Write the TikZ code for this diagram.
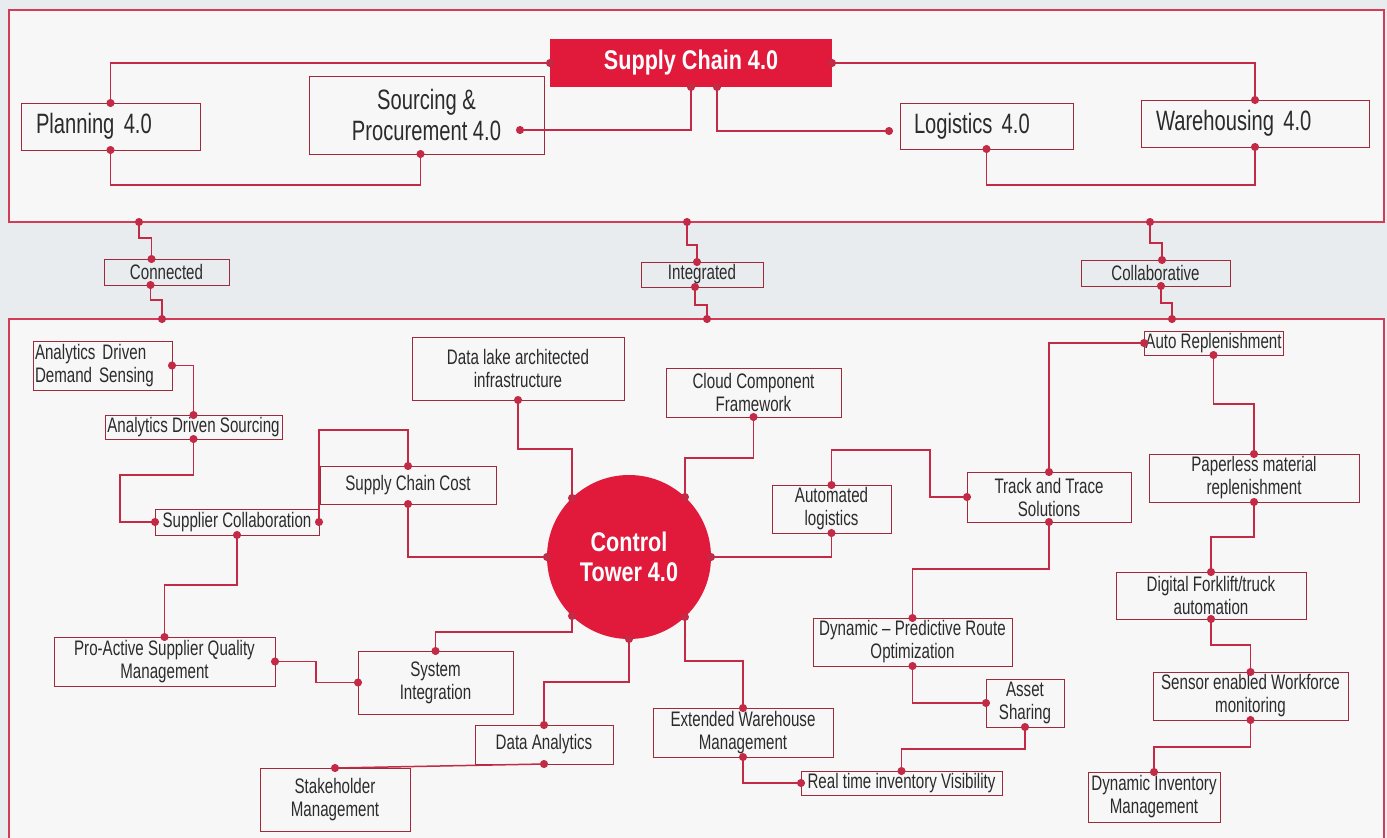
\documentclass[tikz,border=0pt]{standalone}
\usepackage{fontspec}
\setmainfont[FakeStretch=0.72]{Liberation Sans}
\newfontfamily\headfont[FakeStretch=0.8]{Liberation Sans}
\usepackage{xcolor}
\definecolor{pagebg}{HTML}{E9ECEE}
\definecolor{panelbg}{HTML}{F7F7F7}
\definecolor{hubred}{HTML}{E1193B}
\definecolor{wirered}{HTML}{C22A45}
\definecolor{edgered}{HTML}{9E2A3C}
\definecolor{panelred}{HTML}{D23C57}
\definecolor{ink}{HTML}{2B2B2B}
\newcommand{\tagsize}{\fontsize{21}{23}\selectfont}
\newcommand{\bigsize}{\fontsize{28}{31}\selectfont}
\newcommand{\hubsize}{\headfont\bfseries\fontsize{27}{30}\selectfont}
\usepackage{tikz}
\usetikzlibrary{arrows.meta}
\usetikzlibrary{calc}

\begin{document}
\begin{tikzpicture}[x=1pt, y=-1pt,
    panel/.style={draw=panelred, line width=1.2pt, fill=panelbg, inner sep=0pt, outer sep=0pt},
    tag/.style={draw=edgered, line width=1pt, fill=panelbg, inner sep=0pt, outer sep=0pt, align=center, text=ink, font=\tagsize},
    head/.style={tag, font=\bigsize},
    hub/.style={fill=hubred, text=white, inner sep=0pt, outer sep=0pt, align=center, font=\hubsize},
    wire/.style={draw=wirered, line width=1.5pt, arrows={Circle[length=8pt]-Circle[length=8pt]}, shorten <=-4pt, shorten >=-4pt}] % Control tower map

      \fill[pagebg] (0,0) rectangle (1387,838);
      \useasboundingbox (0,0) rectangle (1387,838);
      \clip (0,0) rectangle (1387,838);

      % panels
      \node[panel, minimum width=1375, minimum height=212] (upper) at (696.5,116) {};
      \node[panel, minimum width=1375, minimum height=531] (lower) at (696.5,584.5) {};

      % supply chain 4.0
      \node[hub, minimum width=282, minimum height=48] (sc) at (691,63) {Supply Chain 4.0};
      \node[head, minimum width=179, minimum height=47, text width=149, inner xsep=15, align=left] (plan) at (110.5,126.5) {Planning 4.0};
      \node[head, minimum width=235, minimum height=78] (src) at (426.5,115) {Sourcing \&\\Procurement 4.0};
      \node[head, minimum width=173, minimum height=46, text width=145, inner xsep=14, align=left] (logi) at (986.5,126) {Logistics 4.0};
      \node[head, minimum width=228, minimum height=47, text width=198, inner xsep=15, align=left] (ware) at (1255,123.5) {Warehousing 4.0};
      \coordinate (srcpin) at (520,130);

      \draw[wire] (sc.west) -| (plan.north);
      \draw[wire] (plan.south) -- ++(0,35) -| ($(src.south)+(-6,0)$);
      \draw[wire] (sc.south) |- (srcpin);
      \draw[wire] ($(sc.south)+(26,0)$) |- ($(logi.west)+(-11,5)$);
      \draw[wire] (sc.east) -| (ware.north);
      \draw[wire] (logi.south) -- ++(0,36) -| (ware.south);

      % band
      \node[tag, fill=none, minimum width=125, minimum height=26] (conn) at (166.5,272) {Connected};
      \node[tag, fill=none, minimum width=122, minimum height=25] (integ) at (702,274.5) {Integrated};
      \node[tag, fill=none, minimum width=149, minimum height=26] (collab) at (1155.5,273) {Collaborative};

      \draw[wire] ($(upper.south west)+(130,0)$) -- ++(0,16) -| ($(conn.north)+(-15,0)$);
      \draw[wire] ($(conn.south)+(-16,0)$) -- ++(0,15) -| ($(lower.north west)+(153,0)$);
      \draw[wire] ($(upper.south west)+(678,0)$) -- ++(0,23) -| ($(integ.north)+(-5,0)$);
      \draw[wire] ($(integ.south)+(-7,0)$) -- ++(0,18) -| ($(lower.north west)+(698,0)$);
      \draw[wire] ($(upper.south west)+(1141,0)$) -- ++(0,21) -| ($(collab.north)+(6.5,0)$);
      \draw[wire] ($(collab.south)+(5.5,0)$) -- ++(0,17) -| ($(lower.north west)+(1163,0)$);

      % control tower 4.0
      \node[hub, circle, minimum size=164] (tower) at (629,557) {Control\\Tower 4.0};

      \node[tag, minimum width=139, minimum height=49, text width=135, inner xsep=2, align=left] (adds) at (102.5,365.5) {Analytics Driven\\Demand Sensing};
      \node[tag, minimum width=177, minimum height=24] (ads) at (193.5,427) {Analytics Driven Sourcing};
      \node[tag, minimum width=176, minimum height=38] (scc) at (408,485) {Supply Chain Cost};
      \node[tag, minimum width=164, minimum height=26] (supc) at (237,522) {Supplier Collaboration};
      \node[tag, minimum width=212, minimum height=63] (lake) at (518,368.5) {Data lake architected\\infrastructure};
      \node[tag, minimum width=175, minimum height=49] (cloud) at (753.5,392.5) {Cloud Component\\Framework};
      \node[tag, minimum width=119, minimum height=48] (autol) at (831.5,509) {Automated\\logistics};
      \node[tag, minimum width=164, minimum height=50] (track) at (1049,497) {Track and Trace\\Solutions};
      \node[tag, minimum width=139, minimum height=24] (autor) at (1213.5,343) {Auto Replenishment};
      \node[tag, minimum width=210, minimum height=48] (paper) at (1254,478) {Paperless material\\replenishment};
      \node[tag, minimum width=190, minimum height=47] (fork) at (1211,595.5) {Digital Forklift/truck\\automation};
      \node[tag, minimum width=195, minimum height=48] (sensor) at (1250.5,696) {Sensor enabled Workforce\\monitoring};
      \node[tag, minimum width=132, minimum height=50] (dim) at (1154,797) {Dynamic Inventory\\Management};
      \node[tag, minimum width=199, minimum height=48] (route) at (912.5,642) {Dynamic -- Predictive Route\\Optimization};
      \node[tag, minimum width=78, minimum height=48] (asset) at (1025,703) {Asset\\Sharing};
      \node[tag, minimum width=180, minimum height=49] (ewm) at (743,732.5) {Extended Warehouse\\Management};
      \node[tag, minimum width=201, minimum height=24] (rtiv) at (901.5,783) {Real time inventory Visibility};
      \node[tag, minimum width=221, minimum height=49] (proact) at (164.5,661.5) {Pro-Active Supplier Quality\\Management};
      \node[tag, minimum width=155, minimum height=63] (sysint) at (435.5,682.5) {System\\Integration};
      \node[tag, minimum width=138, minimum height=39] (dana) at (544,744.5) {Data Analytics};
      \node[tag, minimum width=150, minimum height=63] (stake) at (335,799.5) {Stakeholder\\Management};

      % left branch
      \draw[wire] (adds.east) -| (ads.north);
      \draw[wire] (ads.south) -- ++(0,36) -- ++(-73.5,0) |- (supc.west);
      \draw[wire] (supc.east) -- ++(0,-92) -| (scc.north);
      \draw[wire] (scc.south) |- (tower.west);
      \draw[wire] (supc.south) -- ++(0,50) -| (proact.north);
      \draw[wire] (proact.east) -- ++(41,0) |- (sysint.west);
      \draw[wire] (tower.-134) -- ++(0,16) -| (sysint.north);
      \draw[wire] (tower.south) -- ++(0,43) -| (dana.north);
      \draw[wire] (dana.south) -- (stake.north);
      \draw[wire] (lake.south) -- ++(0,49) -| (tower.134);

      % right branch
      \draw[wire] (cloud.south) -- ++(0,41) -| (tower.47);
      \draw[wire] (tower.east) -| (autol.south);
      \draw[wire] (autol.north) -- ++(0,-35) -- ++(98.5,0) |- (track.west);
      \draw[wire] (track.north) |- (autor.west);
      \draw[wire] (track.south) -- ++(0,47) -| (route.north);
      \draw[wire] (route.south) |- (asset.west);
      \draw[wire] (asset.south) -- ++(0,22) -| (rtiv.north);
      \draw[wire] (tower.-47) -- ++(0,44) -| (ewm.north);
      \draw[wire] (ewm.south) |- (rtiv.west);
      \draw[wire] (autor.south) -- ++(0,49) -| (paper.north);
      \draw[wire] (paper.south) -- ++(0,35) -| (fork.north);
      \draw[wire] (fork.south) -- ++(0,26) -| (sensor.north);
      \draw[wire] (sensor.south) -- ++(0,27) -| (dim.north);

\end{tikzpicture}
\end{document}
